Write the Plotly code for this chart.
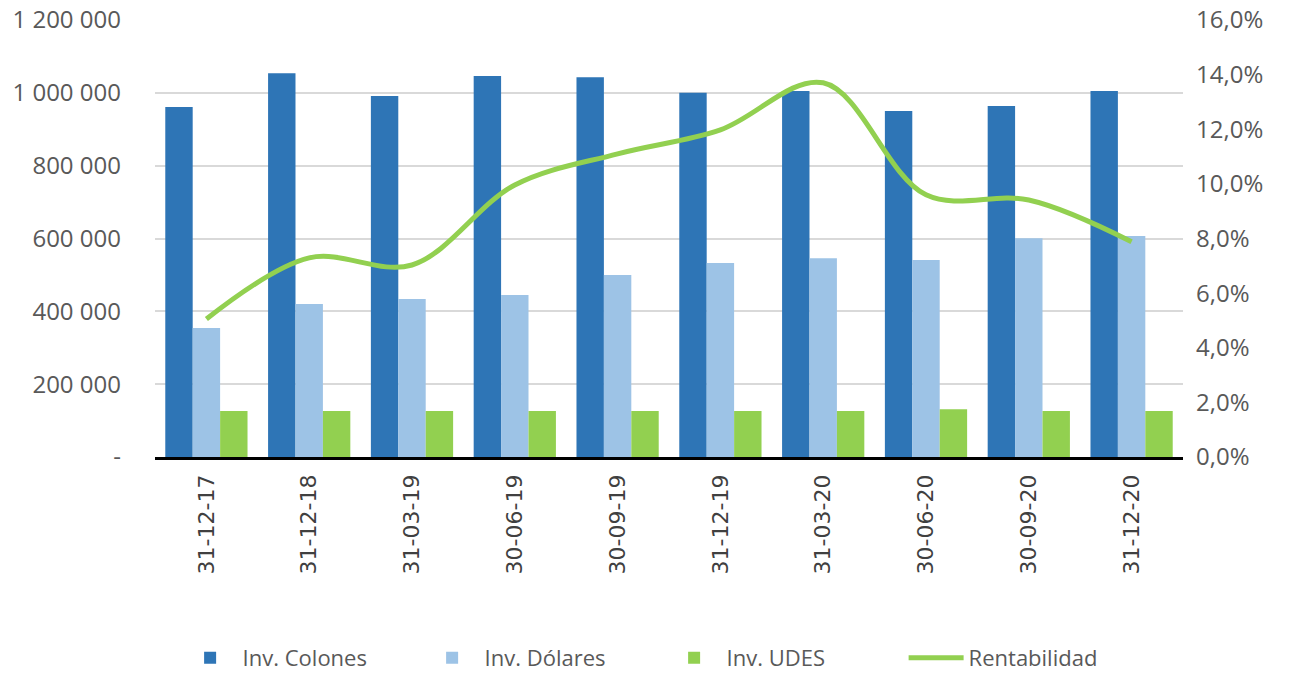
import plotly.graph_objects as go

categories = ["31-12-17", "31-12-18", "31-03-19", "30-06-19", "30-09-19",
              "31-12-19", "31-03-20", "30-06-20", "30-09-20", "31-12-20"]
inv_colones = [961000, 1054000, 991000, 1046000, 1043000, 1000000, 1005000, 950000, 964000, 1005000]
inv_dolares = [354000, 420000, 434000, 445000, 500000, 533000, 546000, 541000, 601000, 607000]
inv_udes = [126000, 126000, 126000, 126000, 126000, 126000, 126000, 131000, 126000, 126000]
rentabilidad = [0.0505, 0.0729, 0.0703, 0.0996, 0.111, 0.1198, 0.137, 0.096, 0.0941, 0.0788]

left_ticks = [0, 200000, 400000, 600000, 800000, 1000000, 1200000]
left_text = ["-", "200 000", "400 000", "600 000", "800 000", "1 000 000", "1 200 000"]
right_ticks = [0, 0.02, 0.04, 0.06, 0.08, 0.10, 0.12, 0.14, 0.16]
right_text = ["0,0%", "2,0%", "4,0%", "6,0%", "8,0%", "10,0%", "12,0%", "14,0%", "16,0%"]

font_fam = "Open Sans, sans-serif"

fig = go.Figure()
fig.add_trace(go.Bar(x=categories, y=inv_colones, name="Inv. Colones", marker_color="#2E75B6",
                     marker_line_width=0))
fig.add_trace(go.Bar(x=categories, y=inv_dolares, name="Inv. Dólares", marker_color="#9DC3E6",
                     marker_line_width=0))
fig.add_trace(go.Bar(x=categories, y=inv_udes, name="Inv. UDES", marker_color="#92D050",
                     marker_line_width=0))
fig.add_trace(go.Scatter(x=categories, y=rentabilidad, name="Rentabilidad", mode="lines",
                         line=dict(color="#92D050", width=5, shape="spline", smoothing=1.0),
                         yaxis="y2"))

fig.update_layout(
    width=1289, height=673,
    margin=dict(l=155, r=106, t=20, b=216, autoexpand=False),
    plot_bgcolor="white", paper_bgcolor="white",
    barmode="group", bargap=0.2, bargroupgap=0,
    font=dict(family=font_fam, size=24, color="#595959"),
    xaxis=dict(type="category", tickangle=-90, showline=True, linecolor="black", linewidth=2.5,
               ticks="", tickfont=dict(family="DejaVu Sans, sans-serif", size=22, color="#404040"),
               showgrid=False, ticklabelstandoff=6),
    yaxis=dict(range=[0, 1200000], tickvals=left_ticks, ticktext=left_text,
               showgrid=True, gridcolor="#D9D9D9", gridwidth=2, zeroline=False,
               ticks="", ticklabelstandoff=33, ticklabeloverflow="allow"),
    yaxis2=dict(range=[0, 0.16], tickvals=right_ticks, ticktext=right_text,
                overlaying="y", side="right", showgrid=False, zeroline=False, ticks="",
                ticklabelstandoff=12, ticklabeloverflow="allow"),
    legend=dict(orientation="h", x=0.022, xanchor="left", y=-0.46, yanchor="middle",
                font=dict(size=22, color="#595959"), traceorder="normal", itemwidth=55,
                entrywidth=172, entrywidthmode="pixels"),
)

fig.write_html("out.html", config={"displayModeBar": False},
               post_script="document.body.style.margin='0';")
